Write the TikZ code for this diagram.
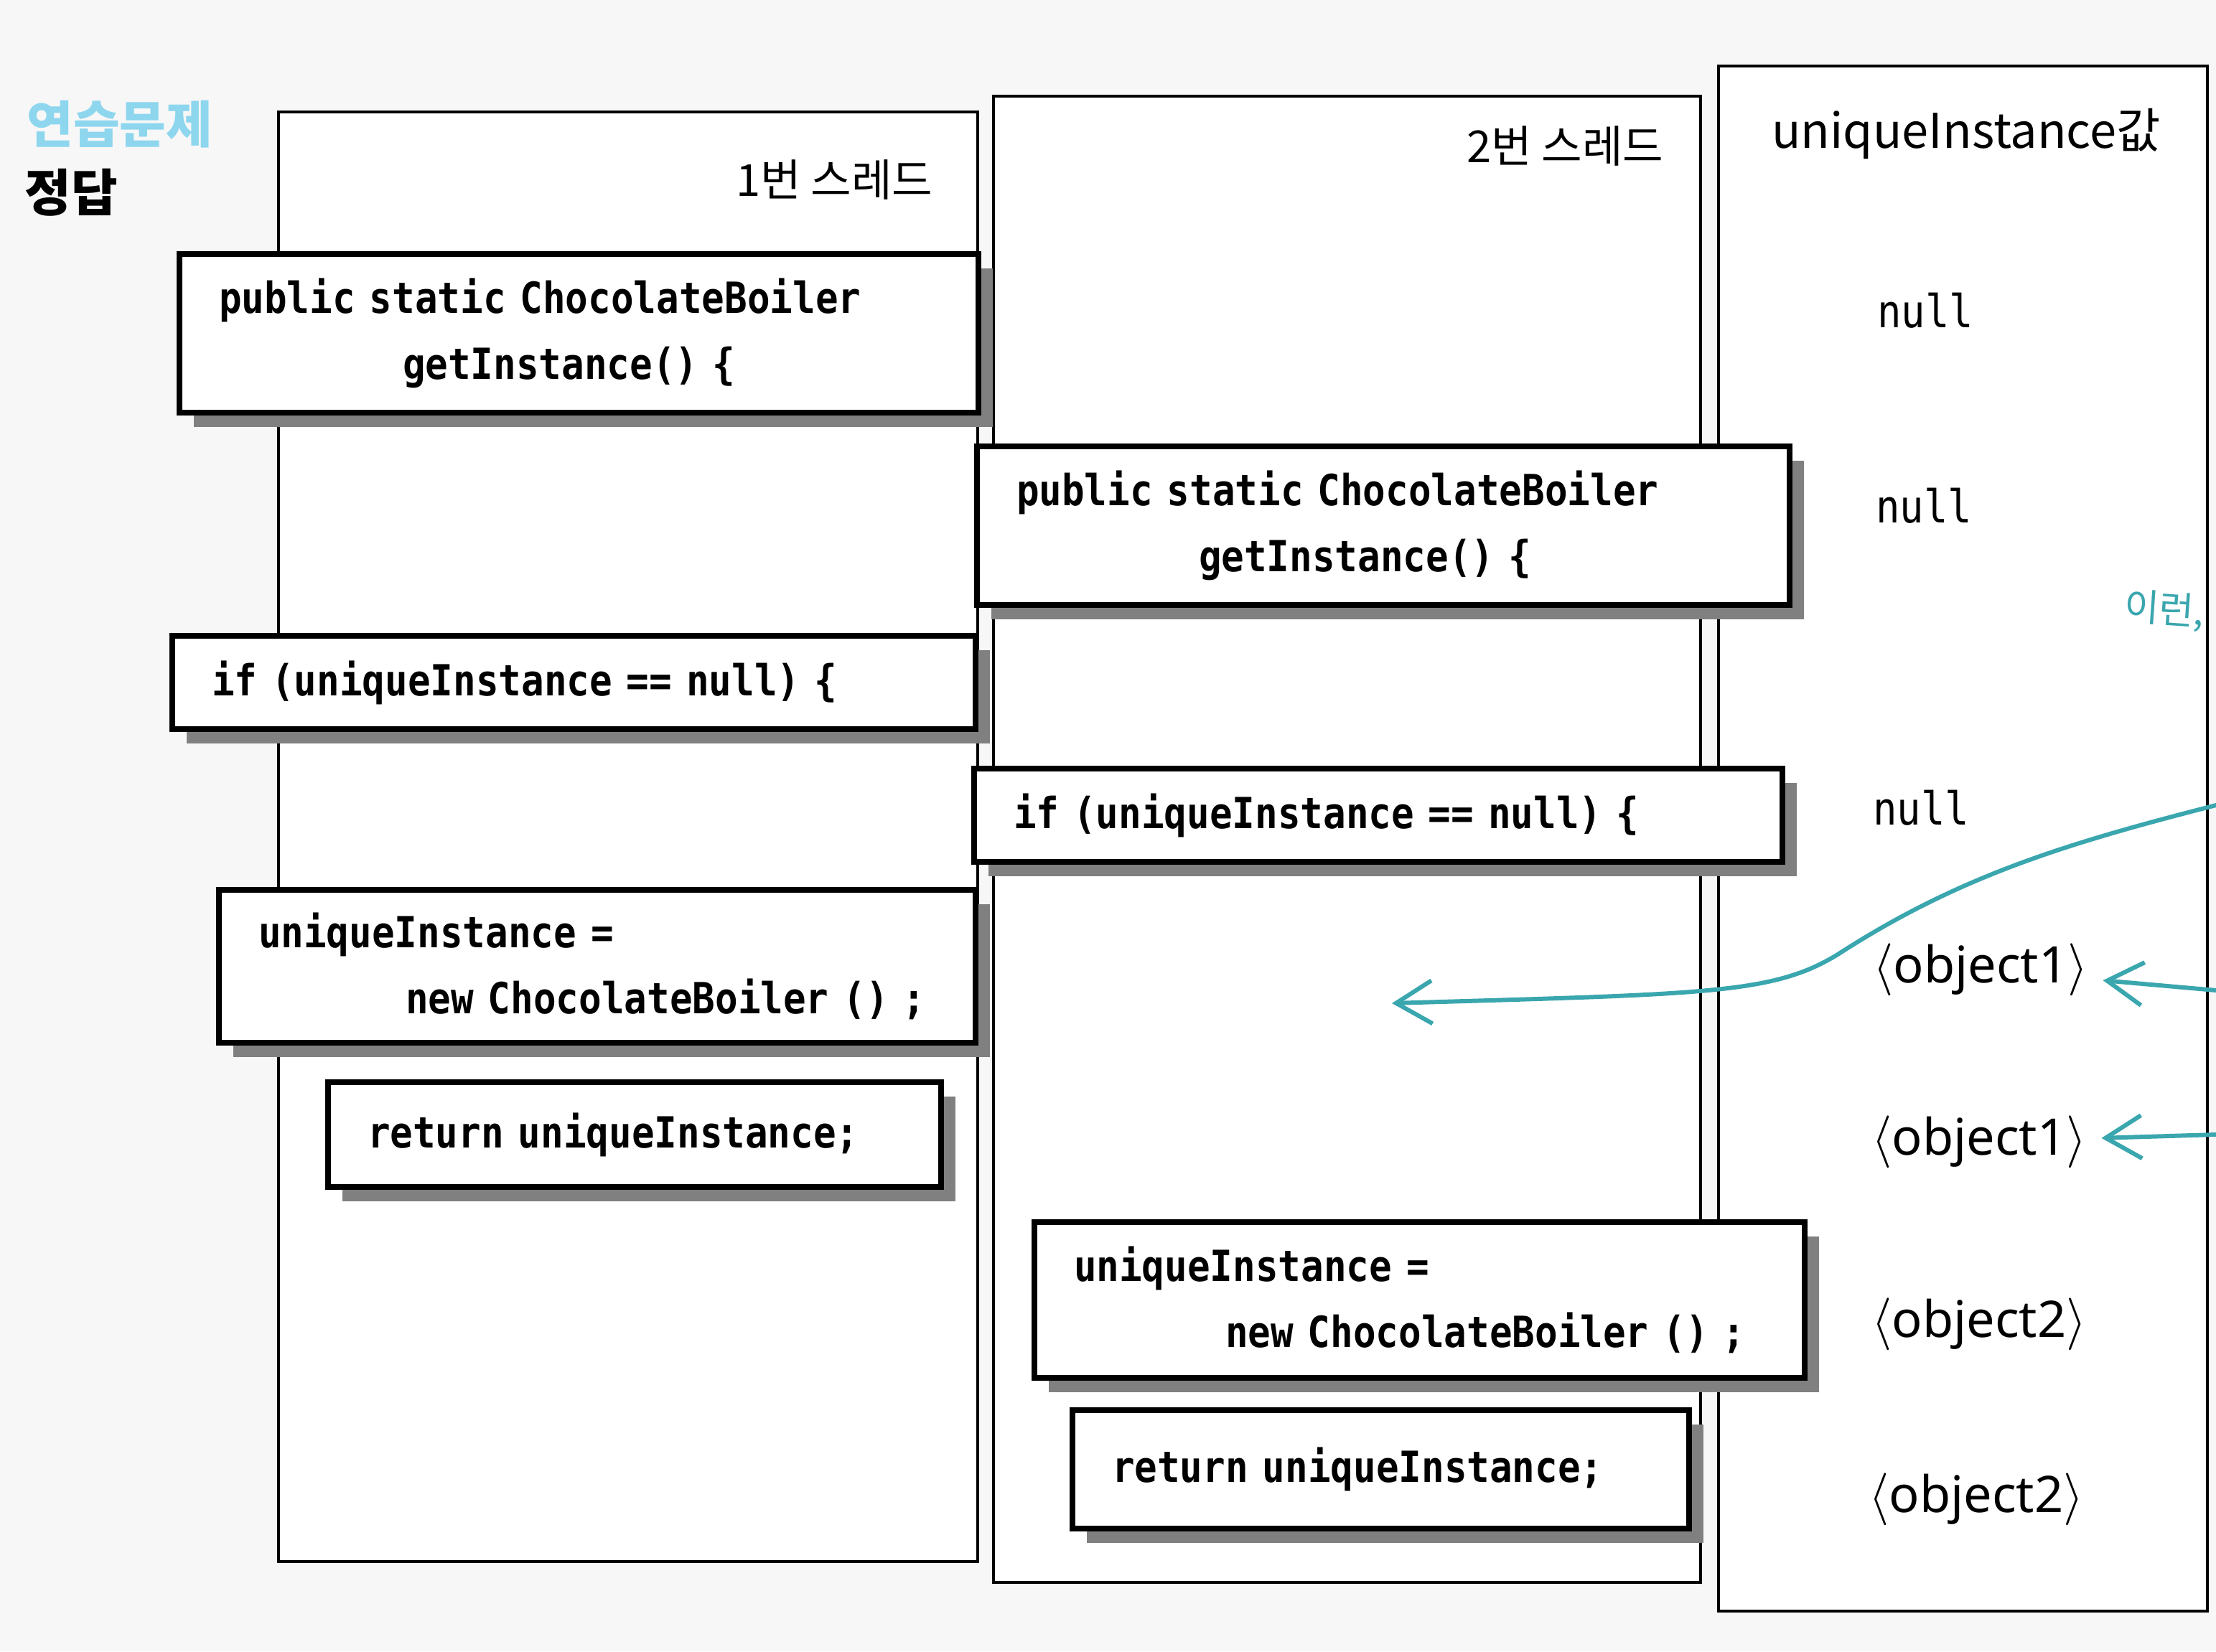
\documentclass[tikz,border=0pt]{standalone}
\usepackage{fontspec}
\setmainfont{Noto Sans}
\newfontfamily\krfont{Noto Sans CJK KR}
\newfontfamily\codefont[FakeStretch=0.88]{DejaVu Sans Mono}
\usetikzlibrary{arrows.meta, shadows, positioning}
\definecolor{pen}{HTML}{3AA6AE}
\definecolor{title}{HTML}{8DD6EE}

\begin{document}
\begin{tikzpicture}[
    lane/.style={draw, line width=1.1pt, fill=white, inner sep=0pt},
    codebox/.style={draw, line width=2.3pt, fill=white, inner xsep=0.55cm, inner ysep=0pt,
        align=left, font={\codefont\bfseries\fontsize{17}{26}\selectfont},
        drop shadow={shadow xshift=0.2cm, shadow yshift=-0.2cm, fill=black!50, opacity=1}},
    head/.style={inner sep=0pt, font={\krfont\fontsize{17.5}{20}\selectfont}},
    val/.style={font={\codefont\fontsize{18}{20}\selectfont}},
    objval/.style={font={\fontsize{20}{22}\selectfont}, inner xsep=0.2cm},
    penarrow/.style={draw=pen, line width=1.7pt, line cap=round, -{Straight Barb[length=0.5cm, width=0.6cm]}}
]
% page
\fill[black!3] (0,0) rectangle (30.87,-23.01);
\useasboundingbox (0,0) rectangle (30.87,-23.01);

% title
\node[anchor=west, text=title, font={\krfont\bfseries\fontsize{20}{22}\selectfont}] (ex) at (0.25,-1.73) {연습문제};
\node[anchor=west, font={\krfont\bfseries\fontsize{20}{22}\selectfont}] (ans) at (0.22,-2.68) {정답};

% three columns
\node[lane, minimum width=9.74cm, minimum height=20.2cm] (lane1) at (8.75,-11.66) {};
\node[lane, minimum width=9.85cm, minimum height=20.71cm] (lane2) at (18.765,-11.695) {};
\node[lane, minimum width=6.81cm, minimum height=21.53cm] (lane3) at (27.345,-11.685) {};

\node[head, anchor=east] (t1) at (13.0,-2.5) {1번 스레드};
\node[head, anchor=east] (t2) at (23.18,-2.03) {2번 스레드};
\node[head, font={\krfont\fontsize{19}{22}\selectfont}] (t3) at (27.39,-1.87) {uniqueInstance값};

% thread 1
\node[codebox, text width=10.03cm, minimum height=2.21cm] (get1) at (8.065,-4.645)
    {public static ChocolateBoiler\\\hspace*{2.56cm}getInstance() \{};
\node[codebox, text width=10.09cm, minimum height=1.30cm] (if1) at (7.995,-9.51)
    {if (uniqueInstance == null) \{};
\node[codebox, text width=9.44cm, minimum height=2.13cm] (new1) at (8.32,-13.465)
    {uniqueInstance =\\\hspace*{2.05cm}new ChocolateBoiler () ;};
\node[codebox, text width=7.44cm, minimum height=1.46cm] (ret1) at (8.84,-15.81)
    {return uniqueInstance;};

% thread 2
\node[codebox, text width=10.22cm, minimum height=2.21cm] (get2) at (19.27,-7.325)
    {public static ChocolateBoiler\\\hspace*{2.54cm}getInstance() \{};
\node[codebox, text width=10.16cm, minimum height=1.30cm] (if2) at (19.20,-11.36)
    {if (uniqueInstance == null) \{};
\node[codebox, text width=9.63cm, minimum height=2.17cm] (new2) at (19.775,-18.115)
    {uniqueInstance =\\\hspace*{2.11cm}new ChocolateBoiler () ;};
\node[codebox, text width=7.49cm, minimum height=1.65cm] (ret2) at (19.235,-20.475)
    {return uniqueInstance;};

% values
\node[val] (v1) at (26.82,-4.33) {null};
\node[val] (v2) at (26.80,-7.05) {null};
\node[val] (v3) at (26.76,-11.26) {null};
\node[objval] (v4) at (27.59,-13.51) {$\langle$object1$\rangle$};
\node[objval] (v5) at (27.57,-15.91) {$\langle$object1$\rangle$};
\node[objval] (v6) at (27.57,-18.45) {$\langle$object2$\rangle$};
\node[objval] (v7) at (27.53,-20.89) {$\langle$object2$\rangle$};

% handwritten notes
\node[text=pen, font={\krfont\fontsize{15}{17}\selectfont}, rotate=-4] (note) at (30.15,-8.51) {이런,};
\coordinate (penS) at (30.87,-11.22);
\coordinate (penT) at (19.39,-13.98);
\coordinate (penA) at (30.87,-13.80);
\coordinate (penB) at (30.87,-15.81);
\draw[penarrow] (penS) .. controls (28.8,-11.75) and (27.3,-12.2) .. (25.6,-13.3)
    .. controls (24.7,-13.85) and (23.8,-13.85) .. (penT);
\draw[penarrow] (penA) -- (v4);
\draw[penarrow] (penB) -- (v5);
\end{tikzpicture}
\end{document}
